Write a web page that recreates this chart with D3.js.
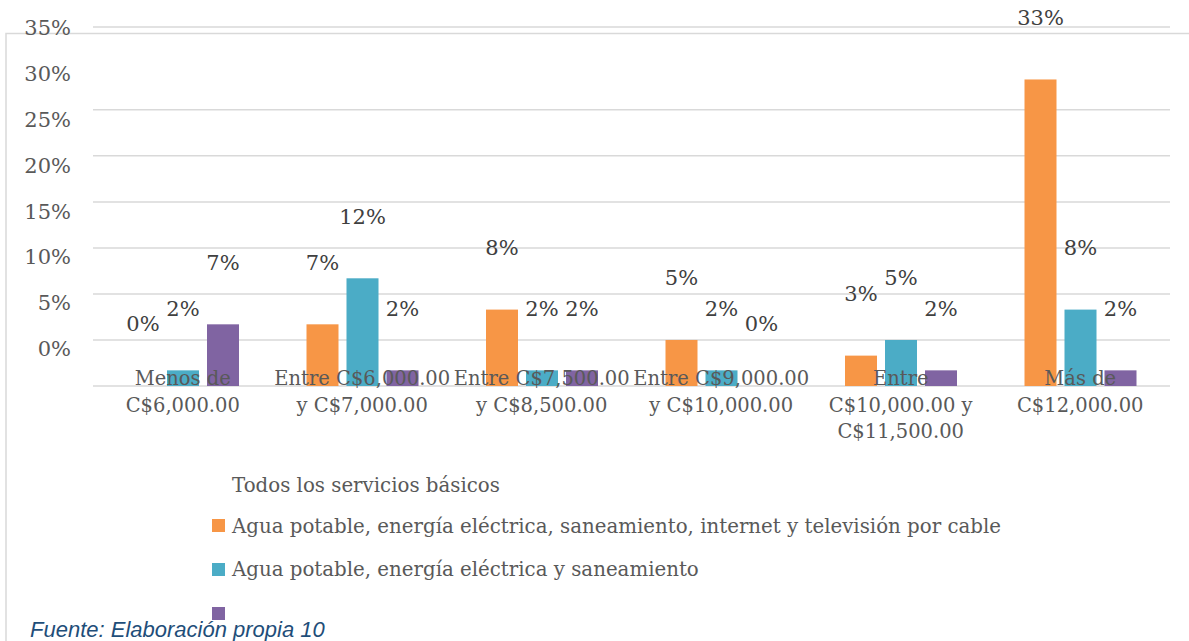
<!DOCTYPE html>
<html>
<head>
<meta charset="utf-8">
<script src="https://cdn.jsdelivr.net/npm/d3@7"></script>
<style>
  body { margin: 0; background: #fff; }
  svg { display: block; }
  .tick-label { font-family: "DejaVu Serif", serif; font-size: 21px; fill: #595959; }
  .cat { font-family: "DejaVu Serif", serif; font-size: 19.5px; fill: #595959; }
  .val { font-family: "DejaVu Serif", serif; font-size: 21px; fill: #404040; }
  .legend { font-family: "DejaVu Serif", serif; font-size: 19.8px; fill: #595959; }
  .source { font-family: "Liberation Sans", sans-serif; font-size: 22px; font-style: italic; fill: #1F4E79; }
</style>
</head>
<body>
<svg id="chart" width="1189" height="641"></svg>
<script>
// categories (one entry per line of the axis label)
let categories = [
  ["Menos de", "C$6,000.00"],
  ["Entre C$6,000.00", "y C$7,000.00"],
  ["Entre C$7,500.00", "y C$8,500.00"],
  ["Entre C$9,000.00", "y C$10,000.00"],
  ["Entre", "C$10,000.00 y", "C$11,500.00"],
  ["Más de", "C$12,000.00"]
]

let seriesNames = [
  "Agua potable, energía eléctrica, saneamiento, internet y televisión por cable",
  "Agua potable, energía eléctrica y saneamiento",
  "Todos los servicios básicos"
]
let seriesColors = ["#F79646", "#4BACC6", "#8064A2"]

// shares of respondents
let internetCable = [0, 0.067, 0.083, 0.05, 0.033, 0.333]
let aguaLuzSaneamiento = [0.017, 0.117, 0.017, 0.017, 0.05, 0.083]
let todosServicios = [0.067, 0.017, 0.017, 0, 0.017, 0.017]

let yTicks = [0, 0.05, 0.10, 0.15, 0.20, 0.25, 0.30, 0.35]
let gridTicks = [0, 0.05, 0.10, 0.15, 0.20, 0.25, 0.30]

let values = [internetCable, aguaLuzSaneamiento, todosServicios]
let data = categories.map((c, i) => ({
  cat: c.join(" "),
  lines: c,
  vals: values.map((s, k) => ({ key: k, v: s[i] }))
}))

let svg = d3.select("#chart")
svg.append("rect").attr("width", 1189).attr("height", 641).attr("fill", "#fff")

let left = 93, right = 1170, base = 386

let yScale = d3.scaleLinear().domain([0, 0.39]).range([base, 27])
// the tick labels sit a little off the gridlines in the original
let yLabel = d3.scaleLinear().domain([0, 0.35]).range([349, 27.5])
let x0 = d3.scaleBand().domain(data.map(d => d.cat)).range([left, right]).padding(0)
let x1 = d3.scaleBand().domain([0, 1, 2]).range([34, 146]).paddingInner(0.2)
let fmt = d3.format(".0%")

// outer chart border (left + top only)
svg.append("path")
  .attr("d", "M6,641 V33.5 H1189")
  .attr("fill", "none")
  .attr("stroke", "#d9d9d9")
  .attr("stroke-width", 1.5)

// gridlines
svg.append("g")
  .selectAll("line")
  .data(gridTicks.concat([0.39]))
  .join("line")
  .attr("x1", left)
  .attr("x2", right)
  .attr("y1", d => yScale(d))
  .attr("y2", d => yScale(d))
  .attr("stroke", "#d9d9d9")
  .attr("stroke-width", 1.5)

svg.append("g")
  .selectAll("text")
  .data(yTicks)
  .join("text")
  .attr("class", "tick-label")
  .attr("x", 71)
  .attr("y", d => yLabel(d))
  .attr("dy", "0.35em")
  .attr("text-anchor", "end")
  .text(d => fmt(d))

let groups = svg.append("g")
  .selectAll("g")
  .data(data)
  .join("g")
  .attr("transform", d => "translate(" + x0(d.cat) + ",0)")

groups.selectAll("rect")
  .data(d => d.vals)
  .join("rect")
  .attr("x", d => x1(d.key))
  .attr("width", x1.bandwidth())
  .attr("y", d => yScale(d.v))
  .attr("height", d => base - yScale(d.v))
  .attr("fill", d => seriesColors[d.key])

// category labels drawn over the bars, as in the source
groups.each(function(d) {
  let g = d3.select(this)
  d.lines.forEach((ln, i) => {
    g.append("text")
      .attr("class", "cat")
      .attr("x", x0.bandwidth() / 2)
      .attr("y", 385 + i * 26.5)
      .attr("text-anchor", "middle")
      .text(ln)
  })
})

groups.selectAll("text.val")
  .data(d => d.vals)
  .join("text")
  .attr("class", "val")
  .attr("x", d => x1(d.key) + x1.bandwidth() / 2)
  .attr("y", d => yScale(d.v) - 62)
  .attr("dy", "0.35em")
  .attr("text-anchor", "middle")
  .text(d => fmt(d.v))

// legend (names shifted one row up, like the reference)
let legend = svg.append("g").attr("transform", "translate(212,0)")
legend.append("text")
  .attr("class", "legend")
  .attr("x", 20)
  .attr("y", 492)
  .text(seriesNames[2])

seriesColors.forEach((c, i) => {
  legend.append("rect")
    .attr("x", 0)
    .attr("y", 519 + i * 44)
    .attr("width", 13)
    .attr("height", 13)
    .attr("fill", c)
  if (i < 2) {
    legend.append("text")
      .attr("class", "legend")
      .attr("x", 20)
      .attr("y", 533 + i * 43)
      .text(seriesNames[i])
  }
})

svg.append("text")
  .attr("class", "source")
  .attr("x", 30)
  .attr("y", 637)
  .text("Fuente: Elaboración propia 10")
</script>
</body>
</html>
